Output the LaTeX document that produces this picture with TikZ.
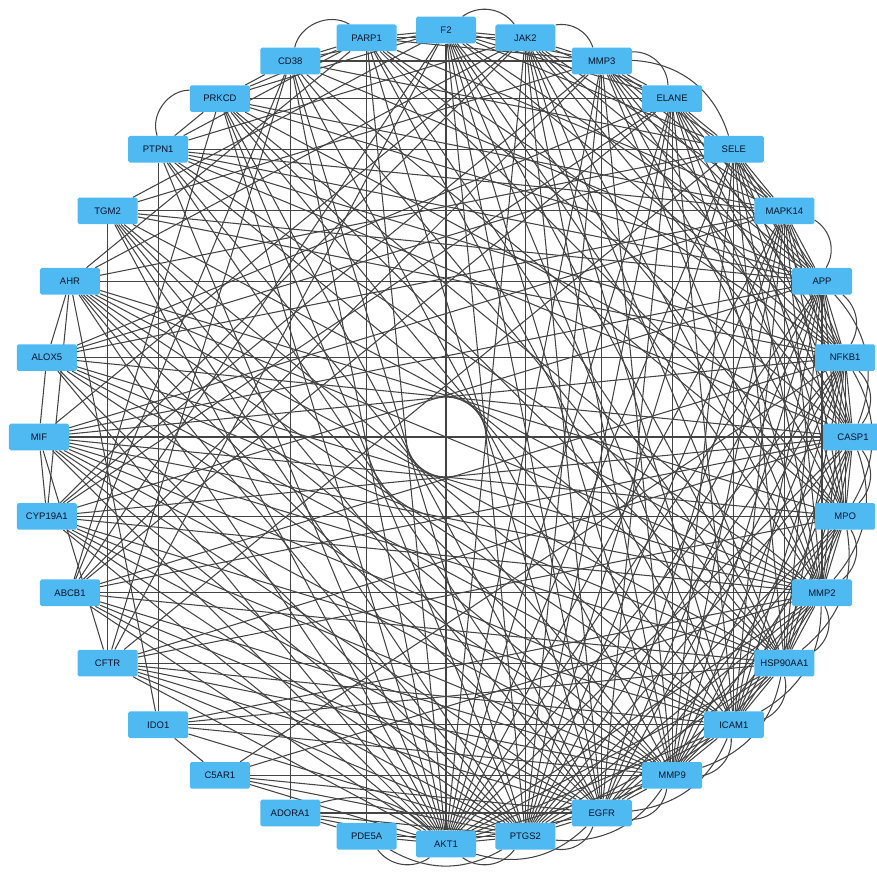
\documentclass[tikz,border=0pt]{standalone}
\usepackage{fontspec}
\setmainfont{Liberation Sans}
\usepackage{tikz}
\definecolor{genefill}{HTML}{4FB9F2}
\definecolor{genetext}{HTML}{0A1228}
\definecolor{linkgray}{HTML}{444444}
\pgfdeclarelayer{bg}
\pgfsetlayers{bg,main}

\begin{document}
\begin{tikzpicture}[x=0.03cm,y=-0.03cm,
    gene/.style={fill=genefill,rounded corners=1.5pt,minimum width=1.8cm,minimum height=0.8cm,inner sep=0,text=genetext,font=\fontsize{8.1}{9}\selectfont},
    link/.style={draw=linkgray,line width=0.9pt}]
    \pgfmathsetmacro{\cx}{446}
    \pgfmathsetmacro{\cy}{437}
    \pgfmathsetmacro{\ringradius}{407}
    \useasboundingbox (0,0) rectangle (877,872);
    % genes on the ring, clockwise from the top
    \foreach \g [count=\i from 0] in {F2,JAK2,MMP3,ELANE,SELE,MAPK14,APP,NFKB1,CASP1,MPO,MMP2,HSP90AA1,ICAM1,MMP9,EGFR,PTGS2,AKT1,PDE5A,ADORA1,C5AR1,IDO1,CFTR,ABCB1,CYP19A1,MIF,ALOX5,AHR,TGM2,PTPN1,PRKCD,CD38,PARP1}
        \node[gene] (\g) at ({\cx+\ringradius*cos(90-11.25*\i)},{\cy-\ringradius*sin(90-11.25*\i)}) {\g};
    \begin{pgfonlayer}{bg}
    % straight interactions
    \foreach \s/\tlist in {
        AKT1/{PTGS2,EGFR,MMP9,ICAM1,HSP90AA1,MMP2,CASP1,NFKB1,APP,MAPK14,SELE,ELANE,MMP3,JAK2,F2,PARP1,CD38,PRKCD,PTPN1,TGM2,AHR,ALOX5,MIF,CYP19A1,ABCB1,CFTR,C5AR1,ADORA1,PDE5A},
        PTGS2/{EGFR,MMP9,ICAM1,HSP90AA1,MMP2,MPO,CASP1,NFKB1,APP,MAPK14,SELE,ELANE,MMP3,JAK2,F2,CD38,PRKCD,TGM2,AHR,ALOX5,MIF,CYP19A1,ABCB1,CFTR,IDO1,C5AR1,ADORA1,PDE5A},
        EGFR/{MMP9,ICAM1,HSP90AA1,MMP2,MPO,NFKB1,APP,MAPK14,ELANE,MMP3,JAK2,F2,PARP1,PRKCD,PTPN1,TGM2,AHR,MIF,CYP19A1,ABCB1,CFTR,C5AR1,ADORA1},
        MMP9/{ICAM1,HSP90AA1,MMP2,MPO,CASP1,NFKB1,APP,MAPK14,SELE,ELANE,MMP3,JAK2,F2,CD38,PTPN1,TGM2,AHR,ALOX5,MIF,CYP19A1,ABCB1,CFTR,IDO1,C5AR1},
        ICAM1/{HSP90AA1,MMP2,MPO,CASP1,NFKB1,APP,MAPK14,SELE,ELANE,JAK2,F2,PARP1,PRKCD,TGM2,AHR,ALOX5,MIF,CYP19A1,CFTR,IDO1},
        HSP90AA1/{MMP2,MPO,CASP1,NFKB1,APP,MAPK14,SELE,JAK2,F2,PARP1,CD38,PRKCD,PTPN1,AHR,ALOX5,MIF,ABCB1,CFTR,IDO1},
        MMP2/{MPO,CASP1,NFKB1,APP,MAPK14,SELE,ELANE,MMP3,JAK2,F2,PRKCD,PTPN1,TGM2,AHR,ALOX5,MIF,CYP19A1,ABCB1,IDO1,C5AR1},
        MPO/{CASP1,NFKB1,APP,MAPK14,SELE,ELANE,MMP3,F2,PARP1,CD38,AHR,MIF,CYP19A1,CFTR},
        CASP1/{NFKB1,APP,MAPK14,SELE,ELANE,MMP3,JAK2,PARP1,PRKCD,PTPN1,ALOX5,MIF,CYP19A1,ABCB1,CFTR},
        NFKB1/{APP,MAPK14,SELE,ELANE,MMP3,JAK2,F2,PARP1,PTPN1,TGM2,ALOX5,MIF,ABCB1,C5AR1},
        APP/{MAPK14,SELE,ELANE,MMP3,JAK2,F2,CD38,PRKCD,PTPN1,TGM2,AHR,MIF,CYP19A1},
        MAPK14/{SELE,ELANE,MMP3,JAK2,PARP1,PRKCD,PTPN1,TGM2,ALOX5,MIF},
        SELE/{ELANE,MMP3,F2,CD38,PTPN1,AHR,ALOX5,CFTR},
        ELANE/{MMP3,JAK2,F2,PRKCD,ALOX5,CYP19A1,ABCB1},
        MMP3/{JAK2,F2,PARP1,CD38,TGM2,CYP19A1,ABCB1},
        JAK2/{F2,PARP1,PTPN1,AHR,MIF,CYP19A1},
        F2/{PARP1,CD38,PRKCD,TGM2,CFTR,ABCB1},
        PARP1/{CD38,PRKCD,PTPN1,AHR,PDE5A},
        CD38/{PRKCD,CFTR,ABCB1,ADORA1},
        PRKCD/{PTPN1,ABCB1},
        PTPN1/{IDO1},
        TGM2/{CFTR},
        AHR/{ALOX5,IDO1,CYP19A1},
        ALOX5/{MIF},
        MIF/{CYP19A1,CFTR},
        IDO1/{C5AR1},
        ADORA1/{PDE5A}}
        \foreach \t in \tlist
            \draw[link] (\s) -- (\t);
    % second edges between ring neighbours, bowed outwards
    \foreach \a/\b/\k in {F2/JAK2/45,JAK2/MMP3/40,MMP3/ELANE/45,MMP3/SELE/35,MAPK14/APP/45,APP/NFKB1/40,APP/CASP1/32,NFKB1/CASP1/40,NFKB1/MPO/30,CASP1/MPO/40,CASP1/MMP2/30,MPO/MMP2/40,MPO/HSP90AA1/30,MMP2/HSP90AA1/40,MMP2/ICAM1/30,HSP90AA1/ICAM1/40,HSP90AA1/MMP9/30,ICAM1/MMP9/40,ICAM1/EGFR/30,MMP9/EGFR/40,MMP9/PTGS2/30,EGFR/PTGS2/40,EGFR/AKT1/30,PTGS2/AKT1/45,PTGS2/PDE5A/30,AKT1/PDE5A/45,ADORA1/AKT1/30,PTPN1/PRKCD/55,CD38/PARP1/55}
        \draw[link] (\a) to[bend left=\k] (\b);
    \end{pgfonlayer}
\end{tikzpicture}
\end{document}
